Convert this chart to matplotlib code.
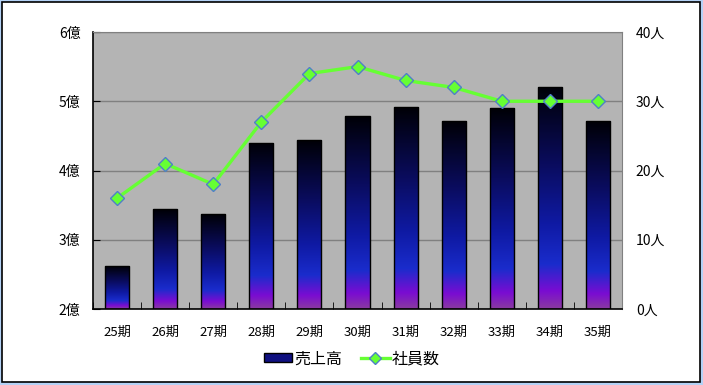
import matplotlib.pyplot as plt
import numpy as np
from matplotlib.colors import LinearSegmentedColormap
from matplotlib.patches import Rectangle
from matplotlib.lines import Line2D

plt.rcParams['font.family'] = ['Noto Sans CJK JP', 'DejaVu Sans']

# data
periods = ['25期', '26期', '27期', '28期', '29期', '30期', '31期', '32期', '33期', '34期', '35期']
sales = [2.62, 3.44, 3.37, 4.40, 4.44, 4.78, 4.91, 4.71, 4.90, 5.21, 4.71]   # 億
staff = [16, 21, 18, 27, 34, 35, 33, 32, 30, 30, 30]   # 人
left_ticks = [2, 3, 4, 5, 6]
right_ticks = [0, 10, 20, 30, 40]

W, H = 703, 385
fig = plt.figure(figsize=(W / 100, H / 100), dpi=100)
fig.patch.set_facecolor('#b4d2f6')
fig.patches.append(Rectangle((2 / W, 3 / H), (W - 5) / W, (H - 5) / H,
                             transform=fig.transFigure, facecolor='white',
                             edgecolor='black', linewidth=1.2, zorder=-5))

# plot area in pixels: x 93..622, y 32..309
ax = fig.add_axes([93 / W, 1 - 309 / H, (622 - 93) / W, (309 - 32) / H])
ax.set_facecolor('#b4b4b4')

grad = LinearSegmentedColormap.from_list('bar', [
    (0.0, '#000006'), (0.35, '#0a0c5e'), (0.62, '#0f1aa4'),
    (0.8, '#1a2ccc'), (0.92, '#7a0cd2'), (1.0, '#8a3aa0')])
g = np.linspace(0, 1, 256).reshape(-1, 1)
bw = 0.5
x = np.arange(len(periods))
bars = ax.bar(x, np.array(sales) - 2, bw, bottom=2, facecolor='none',
              edgecolor='black', linewidth=1.0, zorder=3)
for b in bars:
    x0, y0 = b.get_x(), b.get_y()
    im = ax.imshow(g, cmap=grad, aspect='auto', zorder=2,
                   extent=(x0, x0 + b.get_width(), y0, y0 + b.get_height()),
                   interpolation='bilinear')
    im.set_clip_path(b)
ax.set_xlim(-0.5, len(periods) - 0.5)
ax.set_ylim(2, 6)

ax.set_yticks(left_ticks)
ax.set_yticklabels([f'{v}億' for v in left_ticks], fontsize=10)
ax.yaxis.grid(True, color='#808080', linewidth=1.0, zorder=1)
ax.set_axisbelow(True)
ax.set_xticks(x)
ax.set_xticklabels(periods, fontsize=9.5)
ax.set_xticks(np.arange(len(periods) + 1) - 0.5, minor=True)
ax.tick_params(axis='x', which='major', length=0, pad=12)
ax.tick_params(axis='x', which='minor', direction='in', length=5, color='black')
ax.tick_params(axis='y', direction='in', length=5, color='black', pad=9)
for s in ['top', 'right']:
    ax.spines[s].set_color('#808080')
for s in ['left', 'bottom']:
    ax.spines[s].set_color('black')
    ax.spines[s].set_linewidth(1.2)

ax2 = ax.twinx()
ax2.set_ylim(0, 40)
ax2.set_yticks(right_ticks)
ax2.set_yticklabels([f'{v}人' for v in right_ticks], fontsize=10)
ax2.tick_params(axis='y', length=0, pad=10)
for s in ax2.spines.values():
    s.set_visible(False)
ax2.plot(x, staff, color='#66ff33', linewidth=2.4, marker='D', markersize=7,
         markerfacecolor='#66ff33', markeredgecolor='#4f7fc8', markeredgewidth=1.0,
         zorder=5)

handles = [Rectangle((0, 0), 1, 1, facecolor='#0f1080', edgecolor='black'),
           Line2D([], [], color='#66ff33', linewidth=2.4, marker='D', markersize=6,
                  markerfacecolor='#66ff33', markeredgecolor='#4f7fc8')]
fig.legend(handles, ['売上高', '社員数'], loc='center', bbox_to_anchor=(0.5, 1 - 359 / H),
           ncol=2, frameon=False, fontsize=11.5, handlelength=1.8, handleheight=0.5,
           columnspacing=1.2, handletextpad=0.1)

fig.savefig('out.png', dpi=100, facecolor=fig.get_facecolor())
